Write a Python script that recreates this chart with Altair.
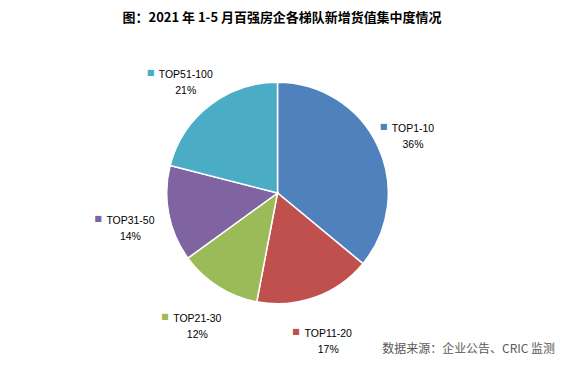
import altair as alt
import pandas as pd

names = ["TOP1-10", "TOP11-20", "TOP21-30", "TOP31-50", "TOP51-100"]
values = [36, 17, 12, 14, 21]
colors = ["#4F81BD", "#C0504D", "#9BBB59", "#8064A2", "#4BACC6"]
title_text = "图：2021 年 1-5 月百强房企各梯队新增货值集中度情况"
source_text = "数据来源：企业公告、CRIC 监测"

df = pd.DataFrame({"name": names, "value": values, "idx": list(range(len(names)))})

color = alt.Color("name:N", scale=alt.Scale(domain=names, range=colors), legend=None)
base = alt.Chart(df).encode(
    theta=alt.Theta("value:Q", stack=True),
    order=alt.Order("idx:Q"),
)

pie = base.mark_arc(outerRadius=111, stroke="white", strokeWidth=1.5).encode(color=color)

labels = base.transform_calculate(
    label="datum.name + '\\n' + datum.value + '%'"
).mark_text(
    radius=150, fontSize=10.5, font="Liberation Sans", lineHeight=16,
    lineBreak="\n", color="#000000", align="center", baseline="middle"
).encode(text="label:N")

markers = base.mark_text(
    text="■", radius=150, dy=-2, dx=alt.expr("-(length(datum.name)*2.9+9)"),
    fontSize=8, font="DejaVu Sans", baseline="middle", align="center"
).encode(color=color)

title = alt.Chart(pd.DataFrame({"t": [title_text]})).mark_text(
    font="Noto Sans CJK SC", fontSize=13, fontWeight="bold", color="#000000",
    align="center", baseline="middle"
).encode(x=alt.value(274.5), y=alt.value(-5), text="t:N")

source = alt.Chart(pd.DataFrame({"t": [source_text]})).mark_text(
    font="Noto Sans CJK SC", fontSize=12, color="#595959",
    align="right", baseline="middle"
).encode(x=alt.value(548), y=alt.value(326), text="t:N")

chart = alt.layer(pie, labels, markers, title, source).properties(
    width=540, height=340,
    padding={"left": 0, "top": 15, "right": 10, "bottom": 0},
    autosize="none",
).configure_view(stroke=None)

chart.save("out.html", embed_options={"renderer": "svg", "actions": False})
